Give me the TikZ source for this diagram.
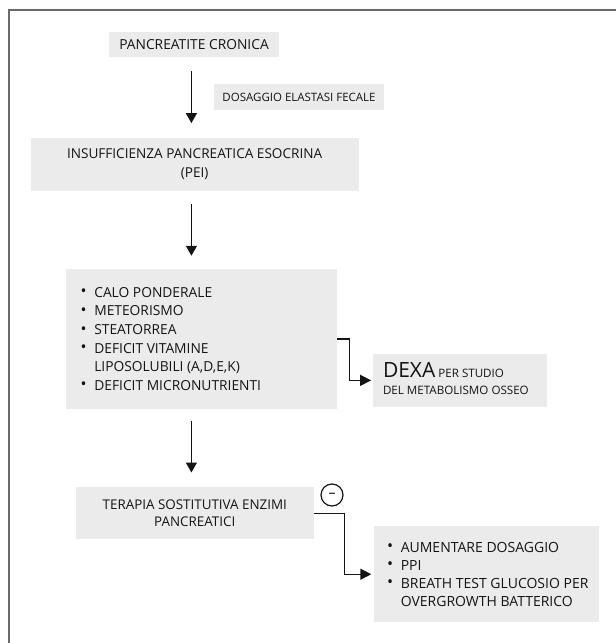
\documentclass[tikz,border=0pt]{standalone}
\usepackage{fontspec}
\setmainfont{Open Sans}
\usetikzlibrary{arrows.meta,calc}
\definecolor{boxfill}{HTML}{EBEBEB}
\definecolor{ink}{HTML}{141414}
\definecolor{framec}{HTML}{6A6A6A}
\newcommand\blt{\makebox[13.8pt][l]{\raisebox{0.3pt}{\scalebox{1.15}{•}}}}
\newcommand\cnt{\hspace*{13.8pt}}
\begin{document}
\begin{tikzpicture}[x=1pt,y=-1pt,
  box/.style={fill=boxfill, inner sep=0pt, text=ink},
  txt/.style={inner sep=0pt, text=ink, align=left},
  arr/.style={draw=ink, line width=1.4pt, -{Triangle[length=10pt,width=11pt]}},
  elbow/.style={draw=ink, line width=1.4pt, -{Triangle[length=11pt,width=11pt]}}]
\useasboundingbox (0,0) rectangle (616,643);
% frame
\draw[framec, line width=2pt] (8.6,650) -- (8.6,10) -- (620,10);
\coordinate (ax) at (191.4,0);
% boxes
\node[box, minimum width=170pt, minimum height=24.4pt, font=\fontsize{13.8}{16}\selectfont] (pc) at (194,44.5) {PANCREATITE CRONICA};
\node[box, minimum width=170pt, minimum height=26pt, font=\fontsize{11.5}{13}\selectfont] (fe) at (299,97) {DOSAGGIO ELASTASI FECALE};
\node[box, minimum width=328pt, minimum height=53pt, align=center, font=\fontsize{13.6}{18.3}\selectfont] (pei) at (194.6,164.2) {INSUFFICIENZA PANCREATICA ESOCRINA\\(PEI)};
\node[box, minimum width=271pt, minimum height=139.7pt] (sym) at (201.5,338.8) {};
\node[txt, anchor=west, font=\fontsize{13.8}{18.6}\selectfont] (symtxt) at ($(sym.west)+(14.5,0)$) {\blt CALO PONDERALE\\ \blt METEORISMO\\ \blt STEATORREA\\ \blt DEFICIT VITAMINE\\ \cnt LIPOSOLUBILI (A,D,E,K)\\ \blt DEFICIT MICRONUTRIENTI};
\node[box, minimum width=174.5pt, minimum height=52.7pt] (dexa) at (459.75,380.35) {};
\node[txt, anchor=west, font=\fontsize{11.6}{17.3}\selectfont] (dexatxt) at ($(dexa.west)+(10.5,-1.5)$) {{\fontsize{21}{21}\selectfont DEXA} PER STUDIO\\ DEL METABOLISMO OSSEO};
\node[box, minimum width=237.5pt, minimum height=52pt, align=center, font=\fontsize{13.4}{16.6}\selectfont] (tsp) at (194.75,513.3) {TERAPIA SOSTITUTIVA ENZIMI\\PANCREATICI};
\node[box, minimum width=225pt, minimum height=96.3pt] (rem) at (486.5,574.2) {};
\node[txt, anchor=west, font=\fontsize{14}{18.1}\selectfont] (remtxt) at ($(rem.west)+(13,0)$) {\blt AUMENTARE DOSAGGIO\\ \blt PPI\\ \blt BREATH TEST GLUCOSIO PER\\ \cnt OVERGROWTH BATTERICO};
\node[draw=ink, circle, line width=1.2pt, minimum size=22pt, inner sep=0pt, font=\fontsize{14}{14}\selectfont] (neg) at (332,495) {–};
% connectors
\draw[arr, shorten <=14pt, shorten >=14.4pt] (pc.south -| ax) -- (pei.north -| ax);
\draw[arr, shorten <=13.3pt, shorten >=13pt] (pei.south -| ax) -- (sym.north -| ax);
\draw[arr, shorten <=12pt, shorten >=14.6pt] (sym.south -| ax) -- (tsp.north -| ax);
\draw[elbow, shorten >=1.2pt] (sym.east) -- ++(12,0) |- (dexa.west);
\draw[elbow, shorten >=2.5pt] (tsp.east) -- ++(30.5,0) |- (rem.west);
\end{tikzpicture}
\end{document}
